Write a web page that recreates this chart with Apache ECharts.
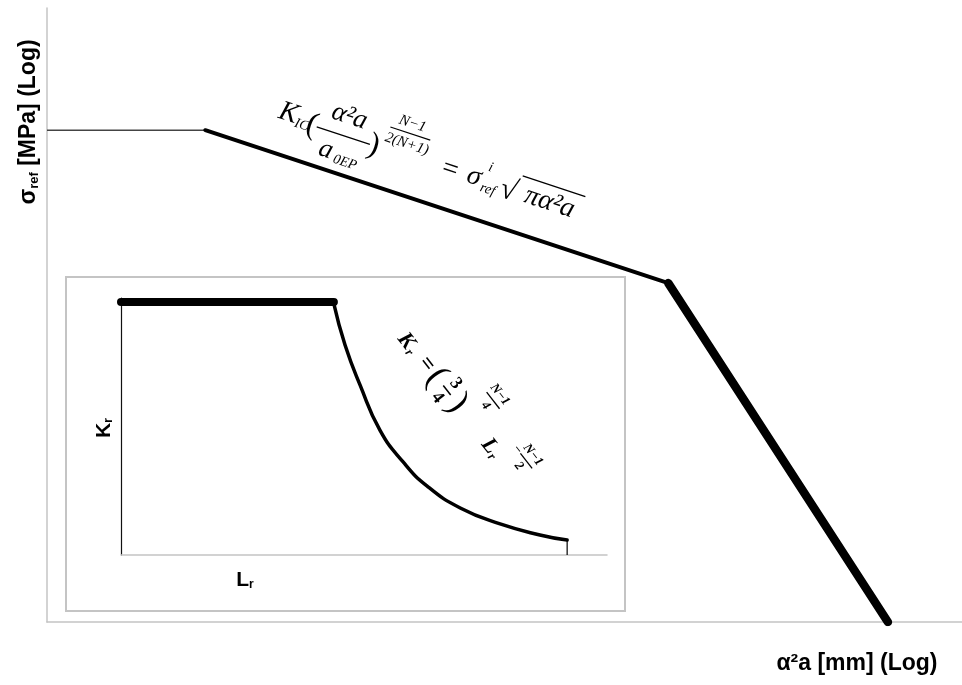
<!DOCTYPE html>
<html>
<head>
<meta charset="utf-8">
<script src="https://cdn.jsdelivr.net/npm/echarts@6/dist/echarts.min.js"></script>
<style>
html,body{margin:0;padding:0;background:#fff;}
#chart{width:962px;height:685px;}
</style>
</head>
<body>
<div id="chart"></div>
<script>
// ---- Data (conceptual log-scale units, 0..100) ----
// Main failure assessment: sigma_ref vs alpha^2 a
const plateauX = [0, 17.3];
const plateauY = [80.1, 80.1];
const lefmX = [17.3, 67.9];
const lefmY = [80.1, 55.2];
const steepX = [67.9, 91.9];
const steepY = [55.2, 0];
// Inset: Kr vs Lr
const insetPlateauX = [0, 43.8];
const insetPlateauY = [98.4, 98.4];
const insetCurveX = [43.8, 46.1, 49.2, 53.3, 58.0, 63.0, 69.8, 78.0, 86.2, 91.8];
const insetCurveY = [97.7, 81.7, 66.1, 48.5, 36.3, 26.8, 18.3, 12.1, 7.8, 5.8];
const insetCutX = [91.8, 91.8];
const insetCutY = [5.8, 0];
// Labels
const yAxisTitle = ['σ', 'ref', ' [MPa] (Log)'];
const xAxisTitle = 'α²a [mm] (Log)';
const insetYTitle = ['K', 'r'];
const insetXTitle = ['L', 'r'];

function pairs(xs, ys) { return xs.map((x, i) => [x, ys[i]]); }

const chart = echarts.init(document.getElementById('chart'), null, {renderer: 'canvas'});

const hiddenAxis = (lineColor, lineWidth) => ({
  type: 'value', min: 0, max: 100,
  axisLine: {show: true, lineStyle: {color: lineColor, width: lineWidth}},
  axisTick: {show: false}, axisLabel: {show: false}, splitLine: {show: false}
});

const serif = '"Liberation Serif", "DejaVu Serif", serif';
function T(text, x, y, size, opts) {
  opts = opts || {};
  return {
    type: 'text', x: x, y: y,
    style: {
      text: text, x: 0, y: 0,
      font: (opts.style || 'italic') + ' ' + (opts.weight || 'normal') + ' ' + size + 'px ' + serif,
      fill: '#000', textAlign: 'center', textVerticalAlign: 'middle'
    }
  };
}
function L(x1, y1, x2, y2, w) {
  return {type: 'line', shape: {x1: x1, y1: y1, x2: x2, y2: y2}, style: {stroke: '#000', lineWidth: w || 1.2}};
}

// Main formula (rotated along the LEFM segment)
const mainFormula = {
  type: 'group', x: 280, y: 120, rotation: -0.319,
  children: [
    T('K', 6, -9, 28),
    T('IC', 22, -2, 14),
    T('(', 32, -5, 32, {style: 'normal'}),
    T('α²a', 65, -25, 27),
    L(37, -5, 93, -5, 1.3),
    T('a', 53, 14, 27),
    T('0EP', 75, 20, 14),
    T(')', 97, -5, 32, {style: 'normal'}),
    T('N−1', 127, -38, 15),
    L(107, -28, 149, -28, 1.1),
    T('2(N+1)', 128, -17, 15),
    T('=', 177, -6, 28, {style: 'normal'}),
    T('σ', 202, -7, 28),
    T('i', 215, -21, 14),
    T('ref', 219, 1, 14),
    T('√', 239, -4, 30, {style: 'normal'}),
    L(248, -23, 314, -23, 1.3),
    T('πα²a', 282, -6, 28)
  ]
};

// Inset formula (rotated along the curve)
const B = {weight: 'bold'};
const insetFormula = {
  type: 'group', x: 406, y: 341, rotation: -0.9076,
  children: [
    T('K', 0, 0, 22, B),
    T('r', 11, 5, 13, B),
    T('=', 31, -2, 23, {style: 'normal', weight: 'bold'}),
    T('(', 47, -2, 36, {style: 'normal'}),
    T('3', 64, -13, 18, {style: 'normal', weight: 'bold'}),
    L(58, -2, 70, -2, 1.5),
    T('4', 64, 10, 18, {style: 'normal', weight: 'bold'}),
    T(')', 81, -2, 36, {style: 'normal'}),
    T('N−1', 100, -41, 13, B),
    L(90, -32, 111, -32, 1.3),
    T('4', 100, -23, 13, B),
    T('L', 134, -1, 22, B),
    T('r', 144, 4, 13, B),
    T('−', 154, -21, 13, B),
    T('N−1', 168, -30, 13, B),
    L(159, -21, 178, -21, 1.3),
    T('2', 168, -12, 13, B)
  ]
};

const sans = '"Liberation Sans", Arial, sans-serif';
const option = {
  animation: false,
  backgroundColor: '#fff',
  grid: [
    {left: 47, top: 8, width: 915, height: 614},
    {left: 121, top: 298, width: 486, height: 257}
  ],
  xAxis: [
    Object.assign(hiddenAxis('#c4c4c4', 1.5), {gridIndex: 0}),
    Object.assign(hiddenAxis('#c4c4c4', 1.5), {gridIndex: 1})
  ],
  yAxis: [
    Object.assign(hiddenAxis('#c4c4c4', 1.5), {gridIndex: 0}),
    Object.assign(hiddenAxis('#111', 1.2), {gridIndex: 1})
  ],
  series: [
    {type: 'line', xAxisIndex: 0, yAxisIndex: 0, data: pairs(plateauX, plateauY), showSymbol: false,
     lineStyle: {color: '#444', width: 1.5}},
    {type: 'line', xAxisIndex: 0, yAxisIndex: 0, data: pairs(lefmX, lefmY), showSymbol: false,
     lineStyle: {color: '#000', width: 4, cap: 'round'}},
    {type: 'line', xAxisIndex: 0, yAxisIndex: 0, data: pairs(steepX, steepY), showSymbol: false,
     lineStyle: {color: '#000', width: 8.5, cap: 'round'}},
    {type: 'line', xAxisIndex: 1, yAxisIndex: 1, data: pairs(insetPlateauX, insetPlateauY), showSymbol: false,
     lineStyle: {color: '#000', width: 8, cap: 'round'}},
    {type: 'line', xAxisIndex: 1, yAxisIndex: 1, data: pairs(insetCurveX, insetCurveY), showSymbol: false,
     smooth: 0.5, lineStyle: {color: '#000', width: 3.5, cap: 'round'}},
    {type: 'line', xAxisIndex: 1, yAxisIndex: 1, data: pairs(insetCutX, insetCutY), showSymbol: false,
     lineStyle: {color: '#000', width: 1.2}}
  ],
  graphic: [
    {type: 'rect', shape: {x: 66, y: 277, width: 559, height: 334}, z: -1,
     style: {fill: 'none', stroke: '#c4c4c4', lineWidth: 2}},
    {type: 'text', x: 29, y: 122, rotation: Math.PI / 2,
     style: {text: '{b|' + yAxisTitle[0] + '}{s|' + yAxisTitle[1] + '}{b|' + yAxisTitle[2] + '}',
       x: 0, y: 0, align: 'center', verticalAlign: 'middle', fill: '#000',
       rich: {b: {fontFamily: sans, fontWeight: 'bold', fontSize: 23, fill: '#000', lineHeight: 26},
              s: {fontFamily: sans, fontWeight: 'bold', fontSize: 13, fill: '#000', padding: [11, 0, 0, 0], lineHeight: 26}}}},
    {type: 'text', x: 857, y: 664,
     style: {text: xAxisTitle, x: 0, y: 0, textAlign: 'center', textVerticalAlign: 'middle',
       font: 'bold 23px ' + sans, fill: '#000'}},
    {type: 'text', x: 104, y: 428, rotation: Math.PI / 2,
     style: {text: '{b|' + insetYTitle[0] + '}{s|' + insetYTitle[1] + '}',
       x: 0, y: 0, align: 'center', verticalAlign: 'middle', fill: '#000',
       rich: {b: {fontFamily: sans, fontWeight: 'bold', fontSize: 21, fill: '#000', lineHeight: 22},
              s: {fontFamily: sans, fontWeight: 'bold', fontSize: 12, fill: '#000', padding: [9, 0, 0, 0], lineHeight: 22}}}},
    {type: 'text', x: 245, y: 580,
     style: {text: '{b|' + insetXTitle[0] + '}{s|' + insetXTitle[1] + '}',
       x: 0, y: 0, align: 'center', verticalAlign: 'middle', fill: '#000',
       rich: {b: {fontFamily: sans, fontWeight: 'bold', fontSize: 21, fill: '#000', lineHeight: 22},
              s: {fontFamily: sans, fontWeight: 'bold', fontSize: 12, fill: '#000', padding: [9, 0, 0, 0], lineHeight: 22}}}},
    mainFormula,
    insetFormula
  ]
};
chart.setOption(option);
</script>
</body>
</html>
